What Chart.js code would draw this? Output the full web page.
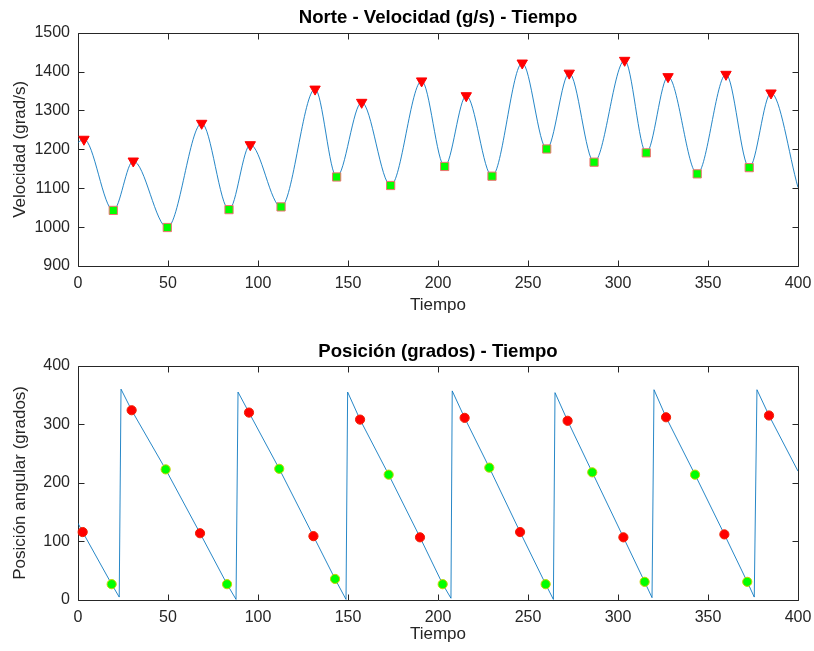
<!DOCTYPE html>
<html>
<head>
<meta charset="utf-8">
<script src="https://cdn.jsdelivr.net/npm/chart.js@4.4.1/dist/chart.umd.min.js"></script>
<style>
  body { margin: 0; background: #fff; }
  canvas { position: absolute; left: 0; }
  #velocidad { top: 0; }
  #posicion { top: 325px; }
</style>
</head>
<body>
<canvas id="velocidad" width="814" height="325"></canvas>
<canvas id="posicion" width="814" height="326"></canvas>
<script>
// Velocidad: máximos (triángulos) y mínimos (cuadrados)
const tiempoPicos = [3.3, 30.7, 68.7, 95.7, 131.7, 157.6, 190.9, 215.7, 246.8, 272.9, 303.7, 327.8, 360, 385];
const velPicos = [1226, 1170, 1267, 1212, 1355, 1321, 1376, 1338, 1422, 1396, 1429, 1387, 1393, 1345];
const tiempoValles = [19.6, 49.6, 83.9, 112.8, 143.7, 173.7, 203.7, 230, 260.4, 286.7, 315.7, 344, 372.9];
const velValles = [1043, 999, 1045, 1052, 1129, 1107, 1156, 1131, 1201, 1167, 1191, 1137, 1153];
const tiempoBordesVel = [0, 400];
const velBordes = [1218, 1102];

// Posición: marcas rojas y verdes sobre la curva, y los saltos de 0 a 360
const tiempoRojos = [2.6, 29.8, 67.8, 95, 130.8, 156.7, 190, 214.8, 245.6, 272, 303, 326.7, 359.1, 383.9];
const posRojos = [116, 324, 114, 320, 109, 308, 107, 311, 116, 306, 107, 312, 112, 315];
const tiempoVerdes = [18.7, 48.7, 82.8, 111.8, 142.8, 172.6, 202.6, 228.5, 259.8, 285.7, 314.8, 342.8, 371.8];
const posVerdes = [27, 223, 27, 224, 36, 214, 27, 226, 27, 218, 31, 214, 31];
const tiempoSaltoAbajo = [22.9, 87.8, 148.9, 207.2, 264.1, 318.9, 375.7];
const posSaltoAbajo = [5, 1, 1, 3, 1, 4, 5];
const tiempoSaltoArriba = [23.9, 88.9, 149.8, 207.9, 265, 320, 377.2];
const posSaltoArriba = [360, 355, 355, 357, 354, 359, 359];
const tiempoBordesPos = [0, 400];
const posBordes = [131, 220];

// Marcas de los ejes
const ticksTiempo = [0, 50, 100, 150, 200, 250, 300, 350, 400];
const ticksVel = [900, 1000, 1100, 1200, 1300, 1400, 1500];
const ticksPos = [0, 100, 200, 300, 400];

const fuente = "'Liberation Sans', Arial, Helvetica, sans-serif";
const gris = '#262626';
Chart.defaults.font.family = fuente;
Chart.defaults.color = gris;

function puntos(xs, ys) {
  return xs.map((x, i) => ({x: x, y: ys[i]}));
}

function ordenados(...listas) {
  return [].concat(...listas).sort((a, b) => a.x - b.x);
}

// caja completa con marcas hacia dentro, como en MATLAB
const cajaEjes = {
  id: 'cajaEjes',
  beforeDatasetsDraw(chart) {
    const {ctx, chartArea: a, scales: {x, y}} = chart;
    const l = Math.round(a.left) + 0.5, r = Math.round(a.right) + 0.5;
    const t = Math.round(a.top) + 0.5, b = Math.round(a.bottom) + 0.5;
    ctx.save();
    ctx.strokeStyle = gris;
    ctx.lineWidth = 1;
    ctx.beginPath();
    ctx.rect(l, t, r - l, b - t);
    x.ticks.forEach(tk => {
      const px = Math.round(x.getPixelForValue(tk.value)) + 0.5;
      ctx.moveTo(px, b); ctx.lineTo(px, b - 6);
      ctx.moveTo(px, t); ctx.lineTo(px, t + 6);
    });
    y.ticks.forEach(tk => {
      const py = Math.round(y.getPixelForValue(tk.value)) + 0.5;
      ctx.moveTo(l, py); ctx.lineTo(l + 6, py);
      ctx.moveTo(r, py); ctx.lineTo(r - 6, py);
    });
    ctx.stroke();
    ctx.restore();
  }
};

function opciones(titulo, pad, yMin, yMax, yTicks, yTitulo, altoX, padTiempo) {
  return {
    responsive: false,
    animation: false,
    devicePixelRatio: 1,
    layout: { padding: { left: 0, right: 16, top: 0, bottom: 0 } },
    plugins: {
      legend: { display: false },
      tooltip: { enabled: false },
      title: {
        display: true,
        fullSize: false,
        text: titulo,
        color: '#000',
        font: { size: 18.6, weight: 'bold' },
        padding: pad
      }
    },
    scales: {
      x: {
        type: 'linear',
        min: 0, max: 400,
        grid: { display: false, drawTicks: false },
        border: { display: false },
        afterBuildTicks: s => { s.ticks = ticksTiempo.map(v => ({value: v})); },
        afterFit: s => { s.height = altoX; s.paddingLeft = 0; s.paddingRight = 0; },
        ticks: { font: { size: 16 }, padding: 8, maxRotation: 0, callback: v => String(v) },
        title: { display: true, text: 'Tiempo', font: { size: 17 }, padding: { top: 0, bottom: padTiempo } }
      },
      y: {
        type: 'linear',
        min: yMin, max: yMax,
        grid: { display: false, drawTicks: false },
        border: { display: false },
        afterBuildTicks: s => { s.ticks = yTicks.map(v => ({value: v})); },
        afterFit: s => { s.width = 78; },
        ticks: { font: { size: 16 }, padding: 8, callback: v => String(v) },
        title: { display: true, text: yTitulo, font: { size: 17 }, padding: { top: 10, bottom: 0 } }
      }
    }
  };
}

const linea = {
  showLine: true,
  pointRadius: 0,
  borderColor: 'rgba(0, 114, 189, 0.85)',
  borderWidth: 1,
  order: 2
};

new Chart(document.getElementById('velocidad'), {
  type: 'scatter',
  data: {
    datasets: [
      {
        data: puntos(tiempoPicos, velPicos),
        pointStyle: 'triangle',
        rotation: 180,
        pointRadius: 6,
        backgroundColor: '#ff0000',
        borderColor: '#ff0000',
        borderWidth: 1,
        clip: false,
        order: 0
      },
      {
        data: puntos(tiempoValles, velValles),
        pointStyle: 'rect',
        pointRadius: 5.8,
        backgroundColor: '#00ff00',
        borderColor: '#f07070',
        borderWidth: 1,
        clip: false,
        order: 1
      },
      Object.assign({
        data: ordenados(puntos(tiempoBordesVel, velBordes), puntos(tiempoPicos, velPicos), puntos(tiempoValles, velValles)),
        cubicInterpolationMode: 'monotone'
      }, linea)
    ]
  },
  options: opciones('Norte - Velocidad (g/s) - Tiempo', { top: 7, bottom: 3.4 }, 900, 1500, ticksVel, 'Velocidad (grad/s)', 59, 9),
  plugins: [cajaEjes]
});

new Chart(document.getElementById('posicion'), {
  type: 'scatter',
  data: {
    datasets: [
      {
        data: puntos(tiempoRojos, posRojos),
        pointStyle: 'circle',
        pointRadius: 4.6,
        backgroundColor: '#ff0000',
        borderColor: '#f02000',
        borderWidth: 1,
        clip: false,
        order: 0
      },
      {
        data: puntos(tiempoVerdes, posVerdes),
        pointStyle: 'circle',
        pointRadius: 4.6,
        backgroundColor: '#00ff00',
        borderColor: '#c8d200',
        borderWidth: 1,
        clip: false,
        order: 1
      },
      Object.assign({
        data: ordenados(puntos(tiempoBordesPos, posBordes), puntos(tiempoRojos, posRojos), puntos(tiempoVerdes, posVerdes),
          puntos(tiempoSaltoAbajo, posSaltoAbajo), puntos(tiempoSaltoArriba, posSaltoArriba)),
        tension: 0
      }, linea)
    ]
  },
  options: opciones('Posición (grados) - Tiempo', { top: 16, bottom: 2.4 }, 0, 400, ticksPos, 'Posición angular (grados)', 51, 6.5),
  plugins: [cajaEjes]
});
</script>
</body>
</html>
